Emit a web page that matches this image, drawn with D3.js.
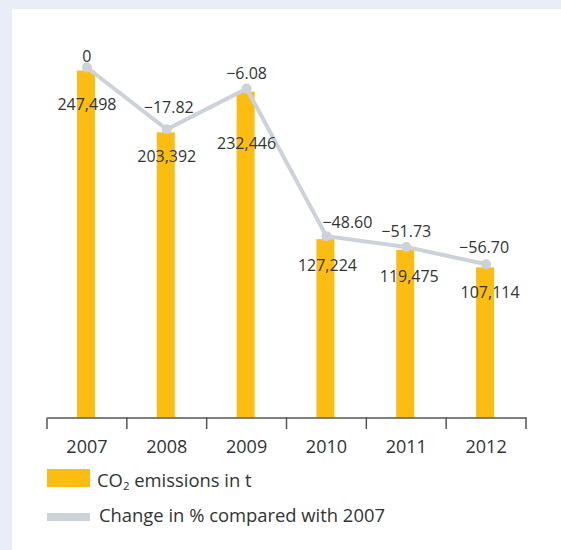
<!DOCTYPE html>
<html>
<head>
<meta charset="utf-8">
<script src="https://cdn.jsdelivr.net/npm/d3@7"></script>
<style>
    body { margin: 0; background: #e9eef6; }
    svg { display: block; font-family: "Open Sans", sans-serif; }
</style>
</head>
<body>
<svg id="chart" width="561" height="550"></svg>
<script>
const years = ["2007", "2008", "2009", "2010", "2011", "2012"];
const emissions = [247498, 203392, 232446, 127224, 119475, 107114];
const changePct = [0, -17.82, -6.08, -48.60, -51.73, -56.70];
const legendLabels = ["emissions in t", "Change in % compared with 2007"];

const svg = d3.select("#chart");
const width = 561, height = 550;

// white panel
svg.append("rect")
    .attr("x", 12).attr("y", 9)
    .attr("width", width - 12).attr("height", height - 9)
    .attr("fill", "#fff");

const x = d3.scaleBand()
    .domain(years)
    .range([47, 526]);

const y = d3.scaleLinear()
    .domain([0, 247498])
    .range([417.5, 70.5]);

// percent line sits a little above the bar tops
const yPct = d3.scaleLinear()
    .domain([-100, 0])
    .range([414.5, 67.5]);

const barW = 18;
const cx = d => x(d) + x.bandwidth() / 2;

// bars
svg.selectAll(".bar")
    .data(years)
    .enter()
    .append("rect")
    .attr("class", "bar")
    .attr("x", (d) => cx(d) - barW / 2 - 1)
    .attr("y", (d, i) => y(emissions[i]))
    .attr("width", barW)
    .attr("height", (d, i) => y(0) - y(emissions[i]))
    .attr("fill", "#fcbd12");

// axis
const axis = svg.append("g")
    .attr("transform", "translate(0,417.5)")
    .call(d3.axisBottom(x).tickSize(0).tickPadding(22.5));
axis.select(".domain").attr("stroke", "#555").attr("stroke-width", 1.5);
axis.selectAll("text")
    .attr("font-size", 18)
    .attr("fill", "#333")
    .attr("font-family", "Open Sans, sans-serif");

// tick marks at band edges
const edges = years.map(d => x(d)).concat([x.range()[1]]);
svg.selectAll(".edge")
    .data(edges)
    .enter()
    .append("line")
    .attr("x1", d => d).attr("x2", d => d)
    .attr("y1", 417.5).attr("y2", 429)
    .attr("stroke", "#555")
    .attr("stroke-width", 1.5);

// change line
const line = d3.line()
    .x((d, i) => cx(years[i]))
    .y(d => yPct(d));

svg.append("path")
    .datum(changePct)
    .attr("d", line)
    .attr("fill", "none")
    .attr("stroke", "#cdd2d9")
    .attr("stroke-width", 4);

svg.selectAll(".pt")
    .data(changePct)
    .enter()
    .append("circle")
    .attr("cx", (d, i) => cx(years[i]))
    .attr("cy", d => yPct(d))
    .attr("r", 5)
    .attr("fill", "#cdd2d9");

// labels (small nudges to keep clear of the line)
const valueDy = [39, 30, 57, 32, 32, 31];
const valueDx = [0, 0, 0, 1, 3, 4];
const pctDy = [-6, -16, -10, -8, -10, -11];
const pctDx = [0, 2, 0, 21, 0, -2];

svg.selectAll(".vlabel")
    .data(emissions)
    .enter()
    .append("text")
    .attr("x", (d, i) => cx(years[i]) + valueDx[i])
    .attr("y", (d, i) => y(d) + valueDy[i])
    .attr("text-anchor", "middle")
    .attr("font-size", 16)
    .attr("fill", "#333")
    .text(d => d3.format(",")(d));

svg.selectAll(".plabel")
    .data(changePct)
    .enter()
    .append("text")
    .attr("x", (d, i) => cx(years[i]) + pctDx[i])
    .attr("y", d => yPct(d))
    .attr("dy", (d, i) => pctDy[i])
    .attr("text-anchor", "middle")
    .attr("font-size", 16)
    .attr("fill", "#333")
    .text(d => d === 0 ? "0" : d3.format(".2f")(d).replace("-", "\u2212"));

// legend
svg.append("rect")
    .attr("x", 47).attr("y", 469)
    .attr("width", 43).attr("height", 18)
    .attr("fill", "#fcbd12");
const t1 = svg.append("text")
    .attr("x", 97).attr("y", 487)
    .attr("font-size", 18.4)
    .attr("fill", "#333");
t1.append("tspan").text("CO");
t1.append("tspan").attr("font-size", 11.5).attr("dy", 3).text("2");
t1.append("tspan").attr("dy", -3).text(" " + legendLabels[0]);

svg.append("rect")
    .attr("x", 47).attr("y", 513)
    .attr("width", 43).attr("height", 8)
    .attr("fill", "#cdd2d9");
svg.append("text")
    .attr("x", 99).attr("y", 522)
    .attr("font-size", 18.4)
    .attr("fill", "#333")
    .text(legendLabels[1]);
</script>
</body>
</html>
